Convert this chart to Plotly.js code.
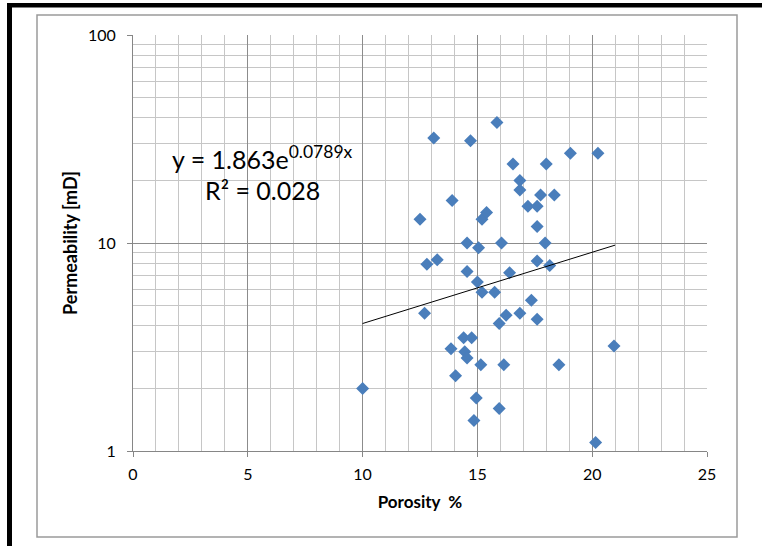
<!DOCTYPE html>
<html>
<head>
<meta charset="utf-8">
<script src="https://cdn.plot.ly/plotly-3.0.1.min.js"></script>
<style>html,body{margin:0;padding:0;background:#fff;}#chart{width:762px;height:546px;}</style>
</head>
<body>
<div id="chart"></div>
<script>
// ---- Data ----
const porosity = [10.0, 12.7, 12.5, 12.8, 13.25, 13.1, 13.9, 14.7, 15.85, 14.55,
                  15.05, 14.55, 15.0, 15.2, 15.75, 15.2, 15.4, 16.55, 16.85, 16.85,
                  17.2, 17.6, 17.75, 18.35, 18.0, 19.05, 20.25, 17.6, 16.05, 17.95,
                  17.6, 18.15, 16.4, 17.35, 16.85, 16.25, 15.95, 17.6, 13.85, 14.4,
                  14.75, 14.45, 14.55, 15.15, 14.05, 14.95, 14.85, 20.95, 16.15, 18.55,
                  15.95, 20.15];
const permeability = [2.0, 4.6, 13, 7.9, 8.3, 32, 16, 31, 38, 10,
                      9.5, 7.3, 6.5, 5.8, 5.8, 13, 14, 24, 20, 18,
                      15, 15, 17, 17, 24, 27, 27, 12, 10, 10,
                      8.2, 7.8, 7.2, 5.3, 4.6, 4.5, 4.1, 4.3, 3.1, 3.5,
                      3.5, 3.0, 2.8, 2.6, 2.3, 1.8, 1.4, 3.2, 2.6, 2.6,
                      1.6, 1.1];
// Exponential trendline shown on the chart: y = 1.863 e^(0.0789x), drawn from x=10 to x=21
const trendA = 1.863;
const trendB = 0.0789;
const trendX = [10, 21];
const trendY = trendX.map(v => trendA * Math.exp(trendB * v));
const xTickVals = [0, 5, 10, 15, 20, 25];
const xMinorVals = [1, 2, 3, 4, 6, 7, 8, 9, 11, 12, 13, 14, 16, 17, 18, 19, 21, 22, 23, 24];
const yTickVals = [1, 10, 100];
const yMinorVals = [2, 3, 4, 5, 6, 7, 8, 9, 20, 30, 40, 50, 60, 70, 80, 90];
const eqText = 'y = 1.863e<sup>0.0789x</sup>';
const r2Text = 'R² = 0.028';
const xTitle = 'Porosity  %';
const yTitle = 'Permeability [mD]';

// ---- Layout helpers (pixel -> paper) ----
const L = 133, R = 707, T = 35, B = 451, W = 762, H = 546;
const px = p => (p - L) / (R - L);
const py = p => (B - p) / (B - T);

const FONT = 'Lato, "Open Sans", sans-serif';

const traces = [
  {
    x: porosity, y: permeability, type: 'scatter', mode: 'markers',
    marker: {symbol: 'diamond', size: 10, color: '#4a7ebb', line: {width: 0}},
    hoverinfo: 'x+y', showlegend: false
  },
  {
    x: trendX, y: trendY, type: 'scatter', mode: 'lines',
    line: {color: '#000', width: 1}, showlegend: false, hoverinfo: 'skip'
  }
];

const layout = {
  width: W, height: H,
  margin: {l: L, r: W - R, t: T, b: H - B, pad: 0},
  paper_bgcolor: '#fff', plot_bgcolor: '#fff',
  font: {family: FONT, size: 16, color: '#000'},
  showlegend: false,
  xaxis: {
    range: [0, 25], tickmode: 'array', tickvals: xTickVals, ticktext: xTickVals.map(String),
    showline: true, linecolor: '#868686', linewidth: 1,
    ticks: 'outside', ticklen: 5, tickcolor: '#868686', ticklabelstandoff: 4,
    showgrid: true, gridcolor: '#8c8c8c', gridwidth: 1,
    zeroline: false,
    minor: {tickmode: 'array', tickvals: xMinorVals, showgrid: true, gridcolor: '#c6c6c6', gridwidth: 1, ticks: ''},
    tickfont: {family: FONT, size: 16, color: '#000'},
    title: {text: xTitle, font: {family: FONT, size: 17, color: '#000', weight: 'bold'}, standoff: 13},
    automargin: false
  },
  yaxis: {
    type: 'log', range: [0, 2], tickmode: 'array', tickvals: yTickVals, ticktext: yTickVals.map(String),
    showline: true, linecolor: '#868686', linewidth: 1,
    ticks: 'outside', ticklen: 5, tickcolor: '#868686', ticklabelstandoff: 8,
    showgrid: true, gridcolor: '#8c8c8c', gridwidth: 1,
    zeroline: false,
    minor: {tickmode: 'array', tickvals: yMinorVals, showgrid: true, gridcolor: '#c6c6c6', gridwidth: 1, ticks: ''},
    tickfont: {family: FONT, size: 16, color: '#000'},
    title: {text: yTitle, font: {family: FONT, size: 18, color: '#000', weight: 'bold'}, standoff: 5},
    automargin: false
  },
  annotations: [
    {xref: 'paper', yref: 'paper', x: px(262), y: py(157), text: eqText, showarrow: false,
     font: {family: FONT, size: 25, color: '#000'}, xanchor: 'center', yanchor: 'middle'},
    {xref: 'paper', yref: 'paper', x: px(262), y: py(190), text: r2Text, showarrow: false,
     font: {family: FONT, size: 25, color: '#000'}, xanchor: 'center', yanchor: 'middle'}
  ],
  shapes: [
    {type: 'rect', xref: 'paper', yref: 'paper', x0: px(37), x1: px(737), y0: py(537), y1: py(15),
     line: {color: '#9a9a9a', width: 1.5}, fillcolor: 'rgba(0,0,0,0)', layer: 'below'},
    {type: 'rect', xref: 'paper', yref: 'paper', x0: px(7), x1: px(762), y0: py(7.5), y1: py(3),
     line: {width: 0}, fillcolor: '#000', layer: 'above'},
    {type: 'rect', xref: 'paper', yref: 'paper', x0: px(7), x1: px(12), y0: py(546), y1: py(3),
     line: {width: 0}, fillcolor: '#000', layer: 'above'}
  ]
};

Plotly.newPlot('chart', traces, layout, {displayModeBar: false, staticPlot: true});
</script>
</body>
</html>
